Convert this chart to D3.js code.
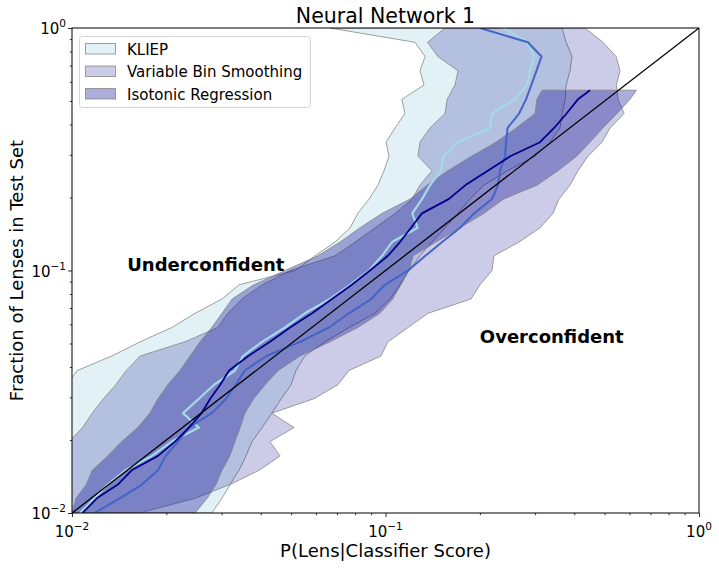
<!DOCTYPE html>
<html>
<head>
<meta charset="utf-8">
<script src="https://cdn.jsdelivr.net/npm/d3@7"></script>
<style>
  body { margin: 0; background: #fff; }
  svg { display: block; font-family: "DejaVu Sans", sans-serif; }
</style>
</head>
<body>
<svg id="chart" width="719" height="568"></svg>
<script>
// fraction of lenses (y) levels used for every band
var yLevels = [0.01, 0.0115, 0.0131, 0.015, 0.0172, 0.0197, 0.0225, 0.0258, 0.0296, 0.0338,
  0.0387, 0.0444, 0.0508, 0.0582, 0.0666, 0.0763, 0.0873, 0.1, 0.115, 0.131,
  0.15, 0.172, 0.197, 0.225, 0.258, 0.296, 0.338, 0.387, 0.444, 0.508,
  0.582, 0.666, 0.763, 0.873, 1.0];

// KLIEP
var kliepLow = [0.007, 0.0072, 0.0075, 0.0078, 0.008, 0.0083, 0.0086, 0.0089, 0.0092, 0.0096,
  0.0104, 0.0134, 0.0165, 0.0208, 0.0247, 0.0301, 0.0341, 0.0515, 0.0596, 0.069,
  0.0771, 0.0816, 0.0886, 0.0946, 0.0989, 0.1026, 0.1004, 0.1073, 0.1153, 0.1128,
  0.1327, 0.1288, 0.1337, 0.1242, 0.0665];
var kliepHigh = [0.0279, 0.0301, 0.0319, 0.0341, 0.0359, 0.0375, 0.0404, 0.0434, 0.0465, 0.05,
  0.0518, 0.0553, 0.0641, 0.0765, 0.0926, 0.1034, 0.1112, 0.1188, 0.1288, 0.1407,
  0.1548, 0.1703, 0.186, 0.206, 0.2452, 0.2999, 0.3348, 0.3603, 0.3659, 0.3742,
  0.3769, 0.3878, 0.3937, 0.3769, 0.3659];
var kliepMid = [0.0106, 0.0118, 0.013, 0.0148, 0.018, 0.0208, 0.0254, 0.0226, 0.0254, 0.0284,
  0.0331, 0.0351, 0.0404, 0.0478, 0.0553, 0.0665, 0.0771, 0.0886, 0.0975, 0.1049,
  0.1267, 0.1217, 0.1307, 0.1387, 0.1505, 0.153, 0.1703, 0.2154, 0.2186, 0.2589,
  0.2828, 0.289, 0.298, 0.2828, 0.2375];

// Variable Bin Smoothing
var vbsLow = [0.008, 0.0085, 0.0088, 0.0092, 0.0095, 0.0098, 0.0108, 0.0116, 0.0126, 0.0138,
  0.0149, 0.0165, 0.0229, 0.0292, 0.0314, 0.0348, 0.0404, 0.0496, 0.069, 0.08,
  0.0926, 0.1073, 0.1217, 0.1288, 0.1407, 0.1269, 0.1288, 0.1387, 0.1548, 0.1573,
  0.1665, 0.1704, 0.1468, 0.1362, 0.1548];
var vbsHigh = [0.0164, 0.0247, 0.0319, 0.0395, 0.0461, 0.0428, 0.0511, 0.0434, 0.0591, 0.0705,
  0.0765, 0.0967, 0.1018, 0.118, 0.1366, 0.1873, 0.2002, 0.2186, 0.2219, 0.2667,
  0.3111, 0.342, 0.3576, 0.3878, 0.4111, 0.4427, 0.4903, 0.5202, 0.577, 0.552,
  0.545, 0.56, 0.544, 0.494, 0.433];
var vbsMid = [0.0118, 0.0142, 0.0167, 0.0188, 0.0199, 0.0218, 0.0236, 0.0279, 0.031, 0.0333,
  0.0356, 0.0417, 0.0534, 0.066, 0.0765, 0.09, 0.0995, 0.118, 0.134, 0.1516,
  0.173, 0.1916, 0.2186, 0.2286, 0.2319, 0.2407, 0.2424, 0.2452, 0.2667, 0.2807,
  0.2919, 0.303, 0.3146, 0.2845, 0.2002];

// Isotonic Regression (stops at 0.554)
var isoLevels = [0.01, 0.0115, 0.0131, 0.015, 0.0172, 0.0197, 0.0225, 0.0258, 0.0296, 0.0338,
  0.0387, 0.0444, 0.0508, 0.0582, 0.0666, 0.0763, 0.0873, 0.1, 0.115, 0.131,
  0.15, 0.172, 0.197, 0.225, 0.258, 0.296, 0.338, 0.387, 0.444, 0.508, 0.554];
var isoLow = [0.01, 0.0103, 0.0111, 0.0116, 0.013, 0.0144, 0.0162, 0.0177, 0.0188, 0.0202,
  0.0221, 0.0238, 0.0256, 0.0279, 0.0301, 0.0324, 0.038, 0.0478, 0.0609, 0.0716,
  0.0829, 0.0975, 0.1197, 0.136, 0.158, 0.188, 0.225, 0.261, 0.3, 0.304, 0.316];
var isoHigh = [0.0247, 0.027, 0.0288, 0.0301, 0.0319, 0.0331, 0.0344, 0.0356, 0.038, 0.0413,
  0.0455, 0.0534, 0.0665, 0.0816, 0.096, 0.1055, 0.112, 0.1188, 0.1226, 0.1448,
  0.1728, 0.206, 0.238, 0.3046, 0.355, 0.4075, 0.4491, 0.4937, 0.548, 0.6025, 0.6316];
var isoMid = [0.0108, 0.012, 0.014, 0.0155, 0.0188, 0.0213, 0.0236, 0.0259, 0.0276, 0.0297,
  0.0317, 0.0365, 0.0428, 0.0496, 0.0583, 0.0675, 0.0781, 0.0892, 0.1018, 0.1112,
  0.1206, 0.1307, 0.159, 0.18, 0.212, 0.25, 0.311, 0.345, 0.378, 0.411, 0.449];

var legendLabels = ["KLIEP", "Variable Bin Smoothing", "Isotonic Regression"];
var majorTicks = [0.01, 0.1, 1];
var majorTickExp = ["\u22122", "\u22121", "0"];
var minorTicks = [0.02, 0.03, 0.04, 0.05, 0.06, 0.07, 0.08, 0.09, 0.2, 0.3, 0.4, 0.5, 0.6, 0.7, 0.8, 0.9];

var width = 719, height = 568;
var pLeft = 72, pRight = 699, pTop = 28, pBottom = 513;

var x = d3.scaleLog().domain([0.01, 1]).range([pLeft, pRight]);
var y = d3.scaleLog().domain([0.01, 1]).range([pBottom, pTop]);

var svg = d3.select("#chart");
svg.append("rect").attr("width", width).attr("height", height).attr("fill", "#fff");

svg.append("defs").append("clipPath").attr("id", "plot-clip")
  .append("rect").attr("x", pLeft).attr("y", pTop)
  .attr("width", pRight - pLeft).attr("height", pBottom - pTop);

var bands = [
  {levels: yLevels, lo: kliepLow, hi: kliepHigh, mid: kliepMid, fill: "#add8e6", alpha: 0.35, line: "#a4d9e6", lw: 2.2},
  {levels: yLevels, lo: vbsLow, hi: vbsHigh, mid: vbsMid, fill: "#00008b", alpha: 0.2, line: "#4563c6", lw: 2},
  {levels: isoLevels, lo: isoLow, hi: isoHigh, mid: isoMid, fill: "#00008b", alpha: 0.32, line: "#00008b", lw: 1.8}
];
bands.forEach(function(b){
  b.rows = b.levels.map(function(v, i){
    return {y: v, lo: b.lo[i], hi: b.hi[i], mid: b.mid[i]};
  });
});

var plot = svg.append("g").attr("clip-path", "url(#plot-clip)");

// fill_betweenx style bands
var area = d3.area()
  .y(function(d){ return y(d.y); })
  .x0(function(d){ return x(d.lo); })
  .x1(function(d){ return x(d.hi); });

bands.forEach(function(b){
  plot.append("path")
    .datum(b.rows)
    .attr("d", area)
    .attr("fill", b.fill)
    .attr("fill-opacity", b.alpha)
    .attr("stroke", "#808080")
    .attr("stroke-opacity", 0.75)
    .attr("stroke-width", 1);
});

var midLine = d3.line()
  .x(function(d){ return x(d.mid); })
  .y(function(d){ return y(d.y); });

bands.forEach(function(b){
  plot.append("path")
    .datum(b.rows)
    .attr("d", midLine)
    .attr("fill", "none")
    .attr("stroke", b.line)
    .attr("stroke-width", b.lw)
    .attr("stroke-linejoin", "round");
});

// perfect calibration
plot.append("path")
  .datum([0.01, 1])
  .attr("d", d3.line().x(function(d){ return x(d); }).y(function(d){ return y(d); }))
  .attr("stroke", "#000")
  .attr("stroke-width", 1.3);

// annotations
svg.append("text").attr("x", x(0.015)).attr("y", y(0.1))
  .attr("font-size", 18).attr("font-weight", "bold").text("Underconfident");
svg.append("text").attr("x", x(0.2)).attr("y", y(0.05))
  .attr("font-size", 18).attr("font-weight", "bold").text("Overconfident");

// axes
function styleAxis(g){
  g.select(".domain").remove();
  g.selectAll(".tick line").attr("stroke", "#000").attr("stroke-width", 0.8);
  g.selectAll(".tick text").remove();
}
svg.append("g").attr("transform", "translate(0," + pBottom + ")")
  .call(d3.axisBottom(x).tickValues(majorTicks).tickSize(4)).call(styleAxis);
svg.append("g").attr("transform", "translate(0," + pBottom + ")")
  .call(d3.axisBottom(x).tickValues(minorTicks).tickSize(2.2)).call(styleAxis);
svg.append("g").attr("transform", "translate(" + pLeft + ",0)")
  .call(d3.axisLeft(y).tickValues(majorTicks).tickSize(4)).call(styleAxis);
svg.append("g").attr("transform", "translate(" + pLeft + ",0)")
  .call(d3.axisLeft(y).tickValues(minorTicks).tickSize(2.2)).call(styleAxis);

svg.append("rect").attr("x", pLeft).attr("y", pTop)
  .attr("width", pRight - pLeft).attr("height", pBottom - pTop)
  .attr("fill", "none").attr("stroke", "#000").attr("stroke-width", 1);

function powerLabel(sel, exp){
  sel.append("tspan").text("10");
  sel.append("tspan").attr("dy", -7).attr("font-size", 10.5).text(exp);
}
majorTicks.forEach(function(v, i){
  svg.append("text").attr("x", x(v)).attr("y", pBottom + 24)
    .attr("text-anchor", "middle").attr("font-size", 15)
    .call(powerLabel, majorTickExp[i]);
  svg.append("text").attr("x", pLeft - 6).attr("y", y(v) + 6)
    .attr("text-anchor", "end").attr("font-size", 15)
    .call(powerLabel, majorTickExp[i]);
});

// titles
svg.append("text").attr("x", (pLeft + pRight) / 2).attr("y", 23)
  .attr("text-anchor", "middle").attr("font-size", 20.5).text("Neural Network 1");
svg.append("text").attr("x", (pLeft + pRight) / 2).attr("y", 557)
  .attr("text-anchor", "middle").attr("font-size", 18).text("P(Lens|Classifier Score)");
svg.append("text").attr("transform", "translate(23," + ((pTop + pBottom) / 2) + ") rotate(-90)")
  .attr("text-anchor", "middle").attr("font-size", 18).text("Fraction of Lenses in Test Set");

// legend
var legend = svg.append("g");
legend.append("rect").attr("x", 79.5).attr("y", 36.5).attr("width", 231).attr("height", 71)
  .attr("rx", 3).attr("fill", "#fff").attr("fill-opacity", 0.8)
  .attr("stroke", "#d4d4d4").attr("stroke-width", 1);
bands.forEach(function(b, i){
  legend.append("rect").attr("x", 85.5).attr("y", 43.5 + i * 22.5)
    .attr("width", 30).attr("height", 10.5)
    .attr("fill", b.fill).attr("fill-opacity", b.alpha)
    .attr("stroke", "#808080").attr("stroke-opacity", 0.75);
  legend.append("text").attr("x", 127).attr("y", 54.5 + i * 22.5)
    .attr("font-size", 15).text(legendLabels[i]);
});
</script>
</body>
</html>
